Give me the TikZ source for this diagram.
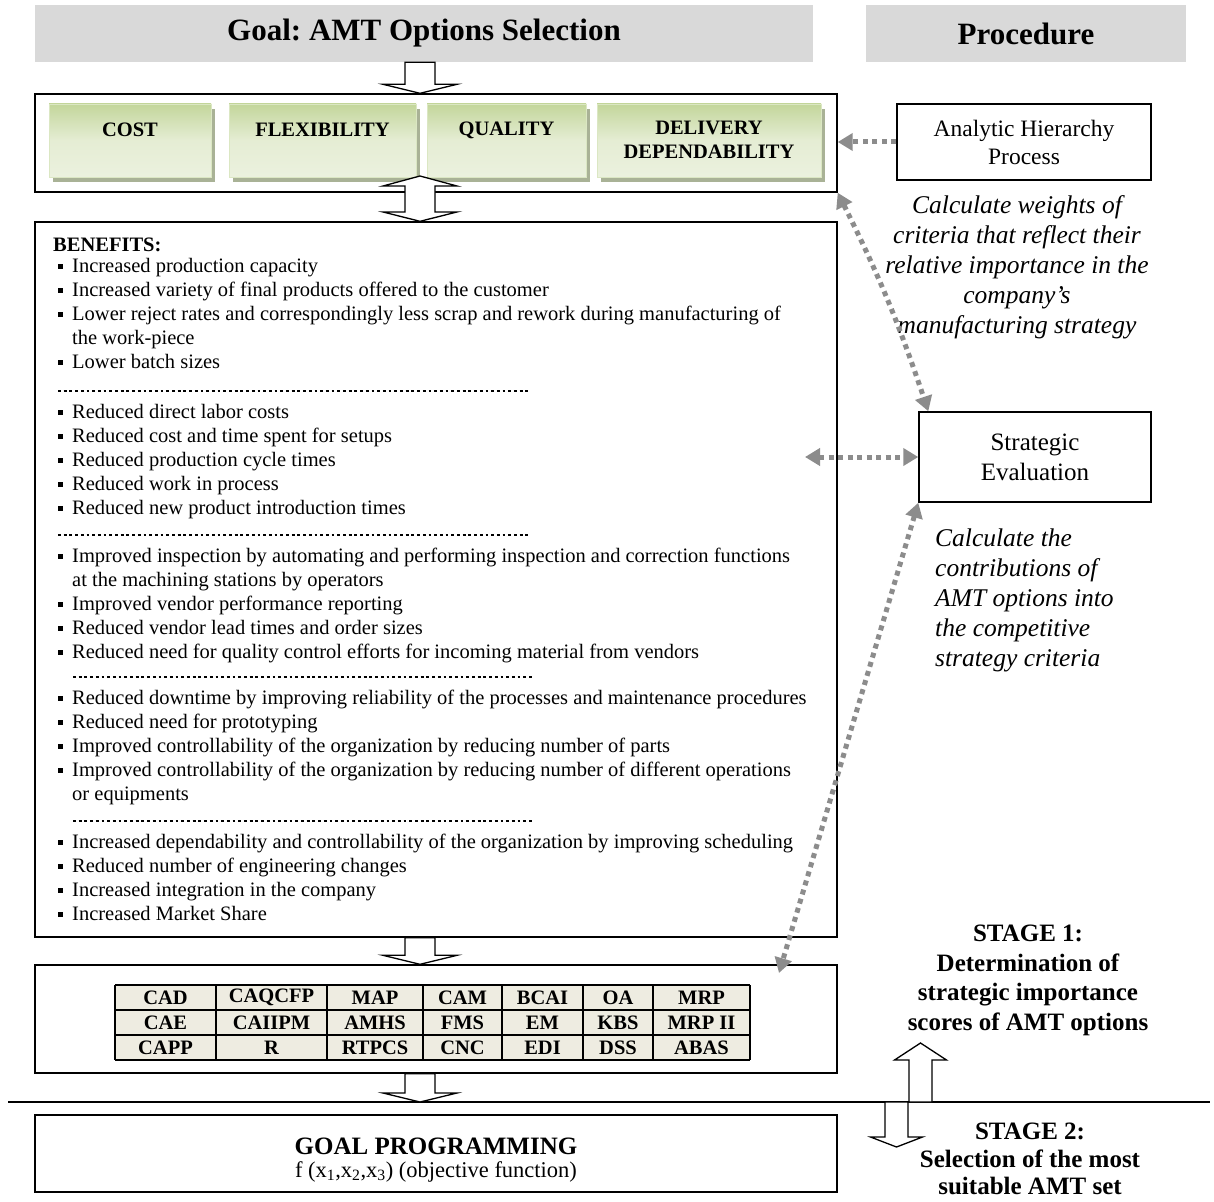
\documentclass[tikz,border=0pt]{standalone}
\usepackage{fontspec}
\setmainfont{Liberation Serif}
\usetikzlibrary{arrows.meta,calc}
\frenchspacing
\definecolor{bannergray}{HTML}{D9D9D9}
\definecolor{gdark}{HTML}{C3D69B}
\definecolor{glight}{HTML}{EBF1DE}
\definecolor{gshadow}{HTML}{A9B296}
\definecolor{tablefill}{HTML}{EEECE1}
\definecolor{dotgray}{HTML}{8C8C8C}
\newcommand\blkarrow[5]{%
  \coordinate (hb) at ($(#2)!#3!(#1)$);
  \draw[blk] ($(#1)+(-#4,0)$) -- ($(#1)+(#4,0)$) -- ($(hb)+(#4,0)$) -- ($(hb)+(#5,0)$) -- (#2) -- ($(hb)+(-#5,0)$) -- ($(hb)+(-#4,0)$) -- cycle;}
\tikzset{
  bx/.style={draw=black, line width=1.4pt, fill=white, inner sep=0pt},
  banner/.style={fill=bannergray, inner sep=0pt, font=\bfseries\fontsize{31}{36}\selectfont},
  crittxt/.style={font=\bfseries\fontsize{20.5}{24}\selectfont, align=center, inner sep=0pt},
  blk/.style={draw=black, line width=1.3pt, fill=white, line join=miter},
  garrow/.style={draw=dotgray, line width=5pt, dash pattern=on 5pt off 4.5pt,
    {Triangle[length=15pt,width=17pt]}-{Triangle[length=15pt,width=17pt]}},
  garrowone/.style={draw=dotgray, line width=5pt, dash pattern=on 5pt off 4.5pt,
    -{Triangle[length=15pt,width=17pt]}},
  body/.style={font=\fontsize{20.5}{24}\selectfont, anchor=base west, inner sep=0pt},
  sepdots/.style={line width=2.8pt, dash pattern=on 2.8pt off 2.9pt},
  note/.style={font=\itshape\fontsize{25.5}{30}\selectfont, inner sep=0pt},
  proctxt/.style={font=\fontsize{23.5}{28}\selectfont, align=center},
  cell/.style={font=\bfseries\fontsize{20.5}{24}\selectfont, inner sep=0pt},
  stagetxt/.style={font=\bfseries\fontsize{25}{29.5}\selectfont, align=center, inner sep=0pt}
}
\begin{document}
\begin{tikzpicture}[x=1pt,y=-1pt]
\useasboundingbox (0,0) rectangle (1214,1201);

% banners
\node[banner, minimum width=778, minimum height=57] (goal) at (424,33.5) {Goal: AMT Options Selection};
\node[banner, minimum width=320, minimum height=57] (proc) at (1026,33.5) {Procedure};

% criteria box
\node[bx, minimum width=802, minimum height=98] (crit) at (436,143) {};
\foreach \n/\xa/\xb in {cost/49/211, flex/229/416, qual/427/586, deli/597/821}{
  \fill[gshadow] (\xa+4,109) rectangle (\xb+4,182);
  \shade[top color=gdark, bottom color=glight, middle color=glight!85!gdark] (\xa,104) rectangle (\xb,177);
  \draw[gdark!60!white, line width=0.8pt] (\xa,104) rectangle (\xb,177);
  \coordinate (\n) at ({(\xa+\xb)/2},140.5);
}
\node[crittxt] (costtxt) at (130,130) {COST};
\node[crittxt] (flextxt) at (322.5,130) {FLEXIBILITY};
\node[crittxt] (qualtxt) at (506.5,130) {QUALITY};
\node[crittxt] (delitxt) at (709,140) {DELIVERY\\DEPENDABILITY};

% benefits box
\node[bx, minimum width=802, minimum height=715] (ben) at (436,579.5) {};
\node[font=\bfseries\fontsize{20.5}{24}\selectfont, anchor=base west, inner sep=0pt] (bentitle) at (53,251) {BENEFITS:};
\foreach \y/\t/\b in {
  265/{Increased production capacity}/1,
  289/{Increased variety of final products offered to the customer}/1,
  313/{Lower reject rates and correspondingly less scrap and rework during manufacturing of}/1,
  337/{the work-piece}/0,
  361/{Lower batch sizes}/1,
  411/{Reduced direct labor costs}/1,
  435/{Reduced cost and time spent for setups}/1,
  459/{Reduced production cycle times}/1,
  483/{Reduced work in process}/1,
  507/{Reduced new product introduction times}/1,
  555/{Improved inspection by automating and performing inspection and correction functions}/1,
  579/{at the machining stations by operators}/0,
  603/{Improved vendor performance reporting}/1,
  627/{Reduced vendor lead times and order sizes}/1,
  651/{Reduced need for quality control efforts for incoming material from vendors}/1,
  697/{Reduced downtime by improving reliability of the processes and maintenance procedures}/1,
  721/{Reduced need for prototyping}/1,
  745/{Improved controllability of the organization by reducing number of parts}/1,
  769/{Improved controllability of the organization by reducing number of different operations}/1,
  793/{or equipments}/0,
  841/{Increased dependability and controllability of the organization by improving scheduling}/1,
  865/{Reduced number of engineering changes}/1,
  889/{Increased integration in the company}/1,
  913/{Increased Market Share}/1}{
  \node[body] (l\y) at (72,\y+7) {\t};
  \ifnum\b=1 \fill (57.5,\y-1.5) rectangle (62.5,\y+3.5); \fi
}
\draw[sepdots] (58,391) -- (528,391);
\draw[sepdots] (58,535) -- (528,535);
\draw[sepdots] (73,677) -- (533,677);
\draw[sepdots] (73,821) -- (533,821);

% table box
\node[bx, minimum width=802, minimum height=108] (tbox) at (436,1019) {};
\fill[tablefill] (115,985) rectangle (750,1060);
\foreach \x in {115,216,327,423,502,583,653,750}{ \draw[line width=1.2pt] (\x,985) -- (\x,1060); }
\foreach \y in {985,1010,1035,1060}{ \draw[line width=1.2pt] (115,\y) -- (750,\y); }
\foreach \x/\t [count=\i] in {165.5/CAD, 271.5/CAQCFP, 375/MAP, 462.5/CAM, 542.5/BCAI, 618/OA, 701.5/MRP}
  { \node[cell] (ta\i) at (\x,997.5) {\t}; }
\foreach \x/\t [count=\i] in {165.5/CAE, 271.5/CAIIPM, 375/AMHS, 462.5/FMS, 542.5/EM, 618/KBS, 701.5/MRP II}
  { \node[cell] (tb\i) at (\x,1022.5) {\t}; }
\foreach \x/\t [count=\i] in {165.5/CAPP, 271.5/R, 375/RTPCS, 462.5/CNC, 542.5/EDI, 618/DSS, 701.5/ABAS}
  { \node[cell] (tc\i) at (\x,1047.5) {\t}; }

% stage separation line
\coordinate (lnl) at (8,1102);
\coordinate (lnr) at (1210,1102);
\draw[line width=1.4pt] (lnl) -- (lnr);

% goal programming box
\node[bx, minimum width=802, minimum height=77] (gp) at (436,1153.5) {};
\node[font=\bfseries\fontsize{25}{28}\selectfont, inner sep=0pt] (gptitle) at (436,1146) {GOAL PROGRAMMING};
\node[font=\fontsize{22.5}{26}\selectfont, inner sep=0pt] (gpsub) at (436,1172) {f (x\textsubscript{1},x\textsubscript{2},x\textsubscript{3}) (objective function)};

% procedure boxes
\node[bx, proctxt, minimum width=254, minimum height=76] (ahp) at (1024,142) {Analytic Hierarchy\\Process};
\node[note, align=center] (ahpnote) at (1017,267.5) {Calculate weights of\\criteria that reflect their\\relative importance in the\\company’s\\manufacturing strategy};
\node[bx, proctxt, font=\fontsize{25}{30}\selectfont, minimum width=232, minimum height=90] (se) at (1035,457) {Strategic\\Evaluation};
\node[note, align=left, anchor=west] (senote) at (935,600) {Calculate the\\contributions of\\AMT options into\\the competitive\\strategy criteria};

% stage labels
\node[stagetxt] (st1) at (1028,980.5) {STAGE 1:\\Determination of\\strategic importance\\scores of AMT options};
\node[stagetxt, font=\bfseries\fontsize{25}{27.5}\selectfont] (st2) at (1030,1159) {STAGE 2:\\Selection of the most\\suitable AMT set};

% block arrows
\coordinate (ax) at (420,0);
\blkarrow{goal.south -| ax}{crit.north -| ax}{9pt}{15}{37}
\coordinate (dup) at (420,176);
\coordinate (ddn) at (ben.north -| ax);
\draw[blk] (dup) -- (457,186) -- (435,186) -- (435,212) -- (457,212) -- (ddn) -- (383,212) -- (405,212) -- (405,186) -- (383,186) -- cycle;
\blkarrow{ben.south -| ax}{tbox.north -| ax}{9pt}{15}{37}
\blkarrow{tbox.south -| ax}{lnl -| ax}{9pt}{15}{37}
\coordinate (uptip) at (920.5,1043);
\blkarrow{lnl -| uptip}{uptip}{17pt}{11.5}{26}
\coordinate (dntip) at (896.5,1147);
\blkarrow{lnl -| dntip}{dntip}{10pt}{11.5}{26}

% dotted procedure arrows
\draw[garrowone] (ahp.west) -- (ahp.west -| crit.east);
\coordinate (secorner) at ($(se.north west)+(10,0)$);
\draw[garrow] (crit.south east) to[bend left=4] (secorner);
\coordinate (benpt) at (805,457);
\draw[garrow] (benpt) -- (se.west);
\coordinate (tpt) at (779,973);
\draw[garrow] (se.south west) -- (tpt);
\end{tikzpicture}
\end{document}
